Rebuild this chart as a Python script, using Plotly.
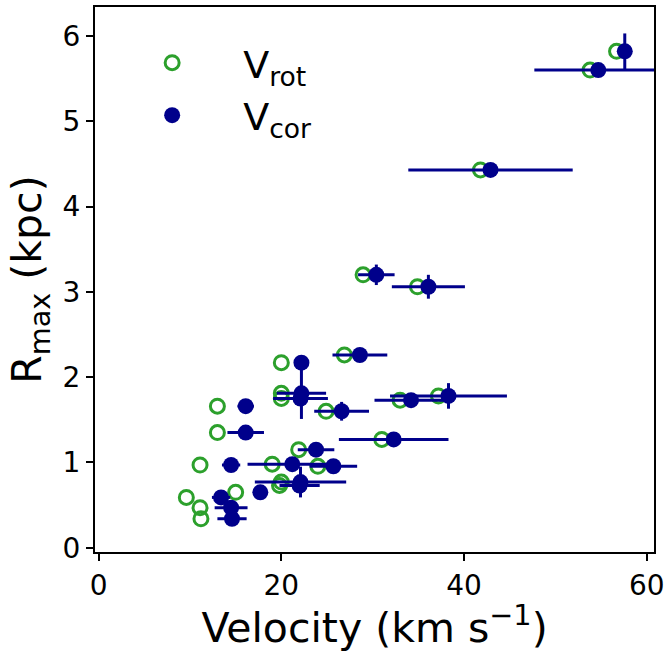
import plotly.graph_objects as go

# R_max (kpc) for each galaxy
r_max = [5.82, 5.60, 4.43, 3.20, 3.06, 2.26, 2.17, 1.81, 1.75, 1.60, 1.73, 1.78, 1.27,
         1.66, 1.35, 1.15, 0.97, 0.98, 0.955, 0.77, 0.73, 0.65, 0.59, 0.47, 0.34]
# uncorrected rotation velocity (km/s)
v_rot = [56.7, 53.8, 41.8, 28.95, 34.9, 26.9, 20.0, 20.0, 20.0, 24.9, 33.0, 37.2, 31.0,
         13.0, 13.0, 21.9, 11.1, 19.0, 24.0, 20.0, 19.8, 15.0, 9.6, 11.1, 11.2]
# corrected velocity (km/s)
v_cor = [57.6, 54.7, 42.9, 30.4, 36.1, 28.6, 22.2, 22.2, 22.1, 26.6, 34.2, 38.3, 32.3,
         16.1, 16.1, 23.8, 14.5, 21.2, 25.7, 22.1, 22.0, 17.7, 13.4, 14.5, 14.6]
v_cor_err = [0.3, 7.0, 9.0, 2.0, 4.0, 3.0, 0.8, 2.7, 3.0, 3.0, 4.0, 6.4, 6.0,
             0.9, 2.0, 2.0, 1.0, 4.9, 2.6, 5.0, 2.2, 0.5, 1.0, 1.8, 1.6]
r_max_err = [0.21, 0.0, 0.0, 0.12, 0.14, 0.0, 0.0, 0.30, 0.0, 0.11, 0.0, 0.15, 0.0,
             0.0, 0.0, 0.0, 0.0, 0.0, 0.0, 0.18, 0.0, 0.0, 0.0, 0.0, 0.05]

GREEN = "#2ca02c"
NAVY = "#00008b"
FONT = "DejaVu Sans"

fig = go.Figure()
fig.add_trace(go.Scatter(
    x=v_rot, y=r_max, mode="markers", name="V<sub>rot</sub>",
    marker=dict(symbol="circle-open", size=14, color=GREEN, line=dict(width=3, color=GREEN)),
))
fig.add_trace(go.Scatter(
    x=v_cor, y=r_max, mode="markers", name="V<sub>cor</sub>",
    marker=dict(symbol="circle", size=16, color=NAVY),
    error_x=dict(type="data", array=v_cor_err, color=NAVY, thickness=3, width=0),
    error_y=dict(type="data", array=r_max_err, color=NAVY, thickness=3, width=0),
))

axis_common = dict(
    showline=True, mirror=True, linecolor="black", linewidth=2,
    ticks="outside", ticklen=7, tickwidth=2, tickcolor="black",
    showgrid=False, zeroline=False, automargin=False,
    tickfont=dict(family=FONT, size=28, color="black"),
)
fig.update_layout(
    width=666, height=652,
    margin=dict(l=95, r=12, t=7, b=100),
    paper_bgcolor="white", plot_bgcolor="white",
    font=dict(family=FONT, color="black"),
    xaxis=dict(range=[-0.4, 60.8], tickvals=[0, 20, 40, 60],
               title=dict(text="Velocity (km s<sup>−1</sup>)", font=dict(family=FONT, size=41), standoff=8),
               **axis_common),
    yaxis=dict(range=[-0.05, 6.34], tickvals=[0, 1, 2, 3, 4, 5, 6],
               title=dict(text="R<sub>max</sub> (kpc)", font=dict(family=FONT, size=41), standoff=8),
               **axis_common),
    showlegend=True,
    legend=dict(x=0.011, y=0.955, xanchor="left", yanchor="top",
                font=dict(family=FONT, size=38), bgcolor="rgba(0,0,0,0)",
                itemsizing="trace", itemwidth=132),
)

fig.write_html("out.html", config={"displayModeBar": False},
               post_script="document.body.style.margin='0';document.body.style.padding='0';")
